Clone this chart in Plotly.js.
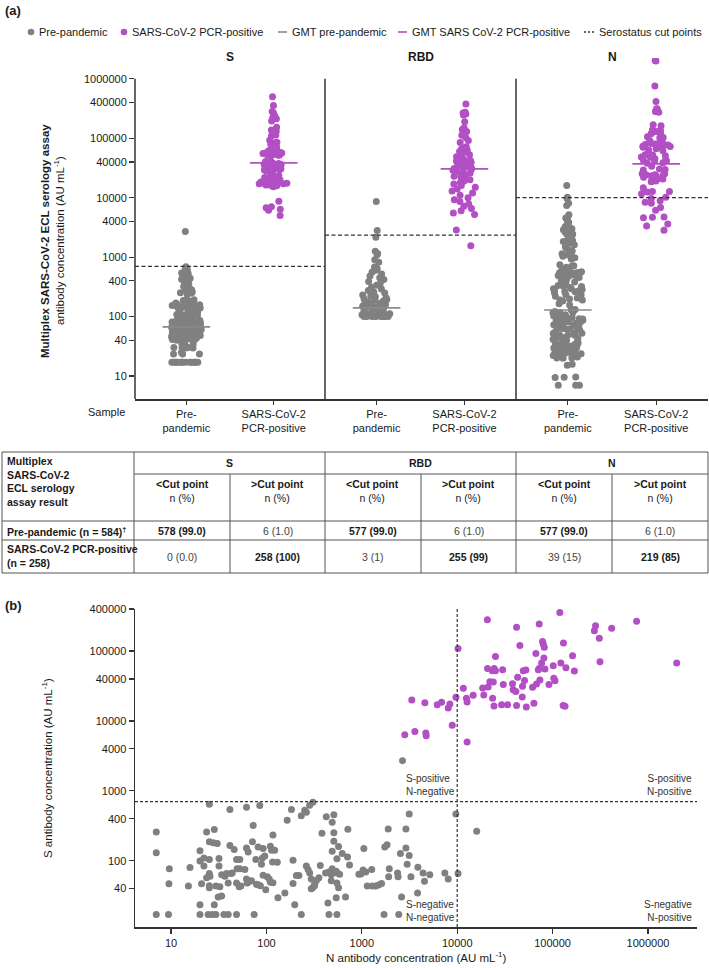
<!DOCTYPE html>
<html><head><meta charset="utf-8">
<script src="https://cdn.plot.ly/plotly-3.0.1.min.js"></script>
<style>body{margin:0;background:#fff}#chart{width:709px;height:968px}</style>
</head><body><div id="chart"></div>
<script>
// ---------------- DATA ----------------
const panels = ['S', 'RBD', 'N'];
const sampleLabels = ['Pre-<br>pandemic', 'SARS-CoV-2<br>PCR-positive'];
const cutValues = [700, 2350, 10000];          // serostatus cut points (S, RBD, N)
const gmtPre = [67, 140, 129];                  // GMT pre-pandemic
const gmtPos = [38500, 30500, 37000];           // GMT SARS-CoV-2 PCR-positive
const aTicks = [10, 40, 100, 400, 1000, 4000, 10000, 40000, 100000, 400000, 1000000];
const bTicksX = [10, 100, 1000, 10000, 100000, 1000000];
const bTicksY = [40, 100, 400, 1000, 4000, 10000, 40000, 100000, 400000];

// Pre-pandemic samples: N and S concentrations (paired)
const nPre = [7,7,7,9.6,9.5,9.4,15.2,15.8,20.1,20.1,20.1,20.1,20.9,22.1,22.1,23.6,23.6,24.5,25.2,25.2,
  25.2,25.2,25.2,25.2,25.6,27,27.7,28.4,28.4,29.5,29.5,30.5,31.2,31.8,31.8,32.5,33.9,33.9,35.8,36.7,
  38.2,39.7,39.7,41.4,41.4,42.4,43.8,45.9,48.6,48.6,48.6,49.3,51.8,52.6,52.6,54,59.4,61.8,61.8,61.8,
  62.8,64.3,66.9,69.7,71.4,72.6,74.3,77.4,78.6,81.8,81.8,85.1,86.5,88.7,90.8,92.3,92.3,96.1,98.4,102,
  107,110,110,113,116,117,117,122,130,132,156,165,183,190,190,198,206,219,232,232,
  252,262,262,273,284,284,295,295,307,307,320,320,333,355,367,382,417,424,441,452,
  452,478,478,489,489,489,509,509,509,539,539,548,548,548,548,570,570,585,623,675,
  708,714,743,931,1050,977,1030,1100,1270,1140,1290,1400,1500,1610,1740,1840,1890,1710,1940,1910,
  2370,2400,2440,2540,2610,2670,2900,2900,2990,3140,3140,3270,3840,3870,4390,4540,5160,7420,8050,9690,
  10200,16000];
const sPre = [259,130,17,77,47,17,43.5,80,139,99,23.5,17,47,110,84,259,57,17,645,187,
  104,66,44,41,60,17,181,280,23.5,43.5,17,177,30.3,108,84,42.5,31.3,63,17,60,
  66,48,17,541,166,66,67,145,104,48,17,77,42.5,104,77,43.5,75,585,153,55,
  48,134,51,52,187,320,17,104,46,158,45.5,617,44,89,110,150,62,117,38.5,59,
  55,162,49.5,142,96,233,48.5,142,95,29.6,34.5,381,541,47.4,102,23.5,61.6,61.6,440,17,
  529,495,84,75,624,67,55,39.8,690,41.6,44,47,52,57,86,248,67,425,25,69,
  17,63,52,357,137,77,454,251,191,71,29.6,107,67,48,17,160,41,64,127,30.3,
  113,283,87,64,150,65,74,69,75,43.5,43.5,43.5,45,47.4,157,169,286,17,77,59,
  67,59,17,127,30.3,2710,286,152,89,469,119,59,34.5,81,67,51,63,67,55,469,
  66,265];

// SARS-CoV-2 PCR-positive samples: N and S concentrations (paired)
const nPos = [2030000,2000000,760000,416000,309000,314000,282000,274000,119000,72400,41900,20700,10200,45400,78500,79800,81800,66800,130000,162000,
  81100,25200,76700,72400,83200,70800,101600,122000,138000,169000,20800,24400,25200,23300,29900,49200,52500,43000,73600,67900,
  61700,103000,106000,91600,22000,23900,21100,30400,38000,38600,41200,48400,50800,18500,19000,23500,48100,11600,14700,12500,
  12700,9700,3340,4580,6170,6850,8050,8380,24300,29200,33700,41900,53000,63700,129000,135000,8870,2820,3600,4690,
  4730,12700];
const sPos = [500000,67500,268000,213000,153000,70500,230000,195000,356000,245000,220000,281000,109000,120000,137000,126000,113000,92700,130000,85700,
  79400,83900,67400,56500,55300,54100,61600,67400,57800,51800,56500,56500,52400,52400,54100,52400,53600,42100,38500,33800,
  30300,40700,37700,33400,36500,36100,30600,33400,34100,28000,26500,31300,38100,29600,23500,21100,22000,29300,23300,21100,
  18700,21800,20000,18300,17100,18500,15300,17500,16400,17100,17100,16600,15800,17900,16600,16200,8670,6380,7050,6740,
  6170,5010];

// RBD concentrations
const rbdPre = [8600,2800,2150,1250,1150,1100,900,820,680,640,600,560,520,480,450,420,390,360,335,310,
  290,275,260,250,240,230,222,215,208,200,194,188,182,176,171,166,161,157,153,149,
  145,142,139,136,133,130,127,124,121,119,117,115,113,111,109,107,105,104,103,102,
  101,100,100,100,100,100,100,100,100];
const rbdPos = [375000,275000,265000,255000,245000,190000,150000,140000,130000,112000,102000,92000,85000,72000,69000,66000,63000,60000,56000,53000,
  51000,49000,46000,44000,42500,41000,39500,38000,36500,35000,34000,33000,32000,31000,30000,29000,28000,27000,26000,25000,
  24000,23000,22000,21000,20000,19000,18000,17000,16000,15000,14000,13000,12000,11000,10000,9200,8600,7800,7200,6600,
  6000,5500,5200,2870,1550];

// Table
const tableHeader = 'Multiplex<br>SARS-CoV-2<br>ECL serology<br>assay result';
const subHeaders = ['<Cut point', '>Cut point'];
const rowLabels = ['Pre-pandemic (n = 584)<sup>†</sup>', 'SARS-CoV-2 PCR-positive<br>(n = 258)'];
const prePandemicCells = ['578 (99.0)', '6 (1.0)', '577 (99.0)', '6 (1.0)', '577 (99.0)', '6 (1.0)'];
const pcrPositiveCells = ['0 (0.0)', '258 (100)', '3 (1)', '255 (99)', '39 (15)', '219 (85)'];

// ---------------- STYLE / LAYOUT ----------------
const W = 709, H = 968;
const FONT = 'Liberation Sans, Arial, Helvetica, sans-serif';
const TXT = '#1a1a1a';
const GREY = '#808080';
const PURPLE = '#b24fc4';
const AXC = '#333333';
const MS = 7;
const annotations = [], shapes = [];

function A(text, x, y, o) {
  o = o || {};
  annotations.push({
    text: text, x: x / W, y: 1 - y / H, xref: 'paper', yref: 'paper', showarrow: false,
    xanchor: o.xa || 'center', yanchor: o.ya || 'middle', align: o.align || 'center',
    textangle: o.angle || 0,
    font: {family: FONT, size: o.size || 11, color: o.color || TXT, weight: o.bold ? 'bold' : 'normal'}
  });
}
function L(x0, y0, x1, y1, o) {
  o = o || {};
  shapes.push({type: 'line', xref: 'paper', yref: 'paper', x0: x0 / W, x1: x1 / W, y0: 1 - y0 / H, y1: 1 - y1 / H,
    line: {color: o.color || '#555', width: o.width || 1, dash: o.dash || 'solid'}});
}

const layout = {
  width: W, height: H, margin: {l: 0, r: 0, t: 0, b: 0},
  paper_bgcolor: '#fff', plot_bgcolor: 'rgba(0,0,0,0)',
  showlegend: false, boxmode: 'overlay', hovermode: 'closest',
  font: {family: FONT, size: 11, color: TXT}
};

const data = [];
const xDomains = [[135, 325], [325, 516], [516, 708]];
const aYRange = [0.613, 6.35];
const aYTopFrac = (Math.log10(aTicks[aTicks.length - 1]) - aYRange[0]) / (aYRange[1] - aYRange[0]);
const preSets = [sPre, rbdPre, nPre];
const posSets = [sPos, rbdPos, nPos];

panels.forEach((p, i) => {
  const xa = i === 0 ? 'x' : 'x' + (i + 1);
  const key = i === 0 ? 'xaxis' : 'xaxis' + (i + 1);
  layout[key] = {
    domain: [xDomains[i][0] / W, xDomains[i][1] / W], anchor: 'y', range: [-0.587, 1.587],
    tickmode: 'array', tickvals: [0, 1], ticktext: sampleLabels, ticks: 'outside', ticklen: 4, tickwidth: 1.2,
    tickcolor: AXC, showline: true, linecolor: AXC, linewidth: 1.5, showgrid: false, zeroline: false,
    tickfont: {family: FONT, size: 11, color: TXT}, fixedrange: true
  };
  const strip = (vals, x0, color) => ({
    type: 'box', y: vals, x0: x0, xaxis: xa, yaxis: 'y', boxpoints: 'all', jitter: 1, pointpos: 0,
    width: 0.34, fillcolor: 'rgba(0,0,0,0)', line: {color: 'rgba(0,0,0,0)', width: 0}, whiskerwidth: 0,
    marker: {color: color, size: MS, opacity: 1}, hoveron: 'points', showlegend: false
  });
  data.push(strip(preSets[i], 0, GREY));
  data.push(strip(posSets[i], 1, PURPLE));
  data.push({type: 'scatter', mode: 'markers', x: [0], y: [gmtPre[i]], xaxis: xa, yaxis: 'y',
    marker: {symbol: 'line-ew', size: 34, line: {width: 1.6, color: '#8a8a8a'}}, cliponaxis: false, hoverinfo: 'y'});
  data.push({type: 'scatter', mode: 'markers', x: [1], y: [gmtPos[i]], xaxis: xa, yaxis: 'y',
    marker: {symbol: 'line-ew', size: 34, line: {width: 1.6, color: PURPLE}}, cliponaxis: false, hoverinfo: 'y'});
  // cut-point dashed line
  shapes.push({type: 'line', xref: xa + ' domain', yref: 'y', x0: 0, x1: 1, y0: cutValues[i], y1: cutValues[i],
    line: {color: '#333', width: 1.3, dash: '4px,2.5px'}});
  // panel separator / y-axis line
  shapes.push({type: 'line', xref: xa + ' domain', yref: 'y domain', x0: 0, x1: 0, y0: 0, y1: aYTopFrac,
    line: {color: AXC, width: 1.5}});
  A(p, (xDomains[i][0] + xDomains[i][1]) / 2, 57, {bold: true, size: 12});
});

layout.yaxis = {
  domain: [1 - 399 / H, 1 - 58 / H], anchor: 'x', type: 'log', range: aYRange,
  tickmode: 'array', tickvals: aTicks, ticktext: aTicks.map(String), ticks: 'outside', ticklen: 5, tickwidth: 1.2,
  tickcolor: AXC, showline: false, showgrid: false, zeroline: false,
  tickfont: {family: FONT, size: 11, color: TXT}, fixedrange: true
};

// Panel (b)
layout.xaxis4 = {
  domain: [135 / W, 697 / W], anchor: 'y2', type: 'log', range: [0.622, 6.514],
  tickmode: 'array', tickvals: bTicksX, ticktext: bTicksX.map(String), ticks: 'outside', ticklen: 5, tickwidth: 1.2,
  tickcolor: AXC, showline: true, linecolor: AXC, linewidth: 1.5, showgrid: false, zeroline: false,
  tickfont: {family: FONT, size: 11, color: TXT}, fixedrange: true
};
layout.yaxis2 = {
  domain: [1 - 927 / H, 1 - 609 / H], anchor: 'x4', type: 'log', range: [1.053, 5.602],
  tickmode: 'array', tickvals: bTicksY, ticktext: bTicksY.map(String), ticks: 'outside', ticklen: 5, tickwidth: 1.2,
  tickcolor: AXC, showline: true, linecolor: AXC, linewidth: 1.5, showgrid: false, zeroline: false,
  tickfont: {family: FONT, size: 11, color: TXT}, fixedrange: true
};
data.push({type: 'scatter', mode: 'markers', x: nPre, y: sPre, xaxis: 'x4', yaxis: 'y2', cliponaxis: false,
  marker: {color: GREY, size: MS}});
data.push({type: 'scatter', mode: 'markers', x: nPos, y: sPos, xaxis: 'x4', yaxis: 'y2', cliponaxis: false,
  marker: {color: PURPLE, size: MS}});
shapes.push({type: 'line', xref: 'x4', yref: 'y2 domain', x0: cutValues[2], x1: cutValues[2], y0: 0, y1: 1,
  line: {color: '#333', width: 1.2, dash: '3px,2px'}});
shapes.push({type: 'line', xref: 'x4 domain', yref: 'y2', x0: 0, x1: 1, y0: cutValues[0], y1: cutValues[0],
  line: {color: '#333', width: 1.2, dash: '3px,2px'}});
const qFont = {family: FONT, size: 10, color: '#333'};
annotations.push({text: 'S-positive<br>N-negative', xref: 'x4', yref: 'y2', x: Math.log10(cutValues[2]), y: Math.log10(cutValues[0]),
  xanchor: 'right', yanchor: 'bottom', align: 'left', xshift: 0, yshift: 3, showarrow: false, font: qFont});
annotations.push({text: 'S-positive<br>N-positive', xref: 'x4 domain', yref: 'y2', x: 1, y: Math.log10(cutValues[0]),
  xanchor: 'right', yanchor: 'bottom', align: 'right', xshift: -3, yshift: 3, showarrow: false, font: qFont});
annotations.push({text: 'S-negative<br>N-negative', xref: 'x4', yref: 'y2 domain', x: Math.log10(cutValues[2]), y: 0,
  xanchor: 'right', yanchor: 'bottom', align: 'left', xshift: 0, yshift: 2, showarrow: false, font: qFont});
annotations.push({text: 'S-negative<br>N-positive', xref: 'x4 domain', yref: 'y2 domain', x: 1, y: 0,
  xanchor: 'right', yanchor: 'bottom', align: 'right', xshift: -3, yshift: 2, showarrow: false, font: qFont});

// Titles / labels
A('(a)', 3, 10, {xa: 'left', bold: true, size: 13});
A('(b)', 3, 605, {xa: 'left', bold: true, size: 13});
A('Multiplex SARS-CoV-2 ECL serology assay', 45, 241, {angle: -90, bold: true, size: 11.5});
A('antibody concentration (AU mL<sup>-1</sup>)', 59, 241, {angle: -90, size: 11.5});
A('Sample', 127, 412, {xa: 'right', size: 11});
A('S antibody concentration (AU mL<sup>-1</sup>)', 47, 768, {angle: -90, size: 11.5});
A('N antibody concentration (AU mL<sup>-1</sup>)', 416, 957, {size: 11.5});

// Legend
function dot(cx, cy, color) {
  shapes.push({type: 'circle', xref: 'paper', yref: 'paper', xsizemode: 'pixel', ysizemode: 'pixel',
    xanchor: cx / W, yanchor: 1 - cy / H, x0: -3.3, x1: 3.3, y0: -3.3, y1: 3.3, fillcolor: color, line: {width: 0}});
}
dot(31, 32, GREY); A('Pre-pandemic', 37, 32, {xa: 'left'});
dot(124, 32, PURPLE); A('SARS-CoV-2 PCR-positive', 130, 32, {xa: 'left'});
L(278, 32, 287, 32, {color: '#8a8a8a', width: 1.6}); A('GMT pre-pandemic', 290, 32, {xa: 'left'});
L(398, 32, 407, 32, {color: PURPLE, width: 1.6}); A('GMT SARS CoV-2 PCR-positive', 410, 32, {xa: 'left'});
L(584, 32, 594, 32, {color: '#333', width: 1.5, dash: '2px,2px'}); A('Serostatus cut points', 597, 32, {xa: 'left'});

// Table
const TC = '#555';
const colX = [2, 134, 230, 325, 421, 516, 612, 708];
L(2, 452, 708, 452, {color: TC});
L(134, 474, 708, 474, {color: TC});
L(2, 521, 708, 521, {color: TC});
L(2, 540, 708, 540, {color: TC});
L(2, 573, 708, 573, {color: TC});
colX.forEach((x, i) => {
  const top = (i === 2 || i === 4 || i === 6) ? 474 : 452;
  L(x, top, x, 573, {color: TC});
});
A(tableHeader, 5, 481, {xa: 'left', align: 'left', bold: true, size: 10.5});
panels.forEach((p, i) => {
  A(p, (colX[1 + 2 * i] + colX[3 + 2 * i]) / 2, 463, {bold: true, size: 10.5});
});
for (let c = 0; c < 6; c++) {
  const cx = (colX[c + 1] + colX[c + 2]) / 2;
  A('<b>' + subHeaders[c % 2] + '</b><br>n (%)', cx, 491, {size: 10.5});
  const b1 = c % 2 === 0, b2 = c % 2 === 1;
  A(prePandemicCells[c], cx, 531, {size: 10.5, bold: b1, color: b1 ? TXT : '#444'});
  A(pcrPositiveCells[c], cx, 557, {size: 10.5, bold: b2, color: b2 ? TXT : '#444'});
}
A(rowLabels[0], 5, 531, {xa: 'left', align: 'left', bold: true, size: 10.5});
A(rowLabels[1], 5, 556, {xa: 'left', align: 'left', bold: true, size: 10.5});

layout.annotations = annotations;
layout.shapes = shapes;
Plotly.newPlot('chart', data, layout, {staticPlot: true, displayModeBar: false});
</script></body></html>
